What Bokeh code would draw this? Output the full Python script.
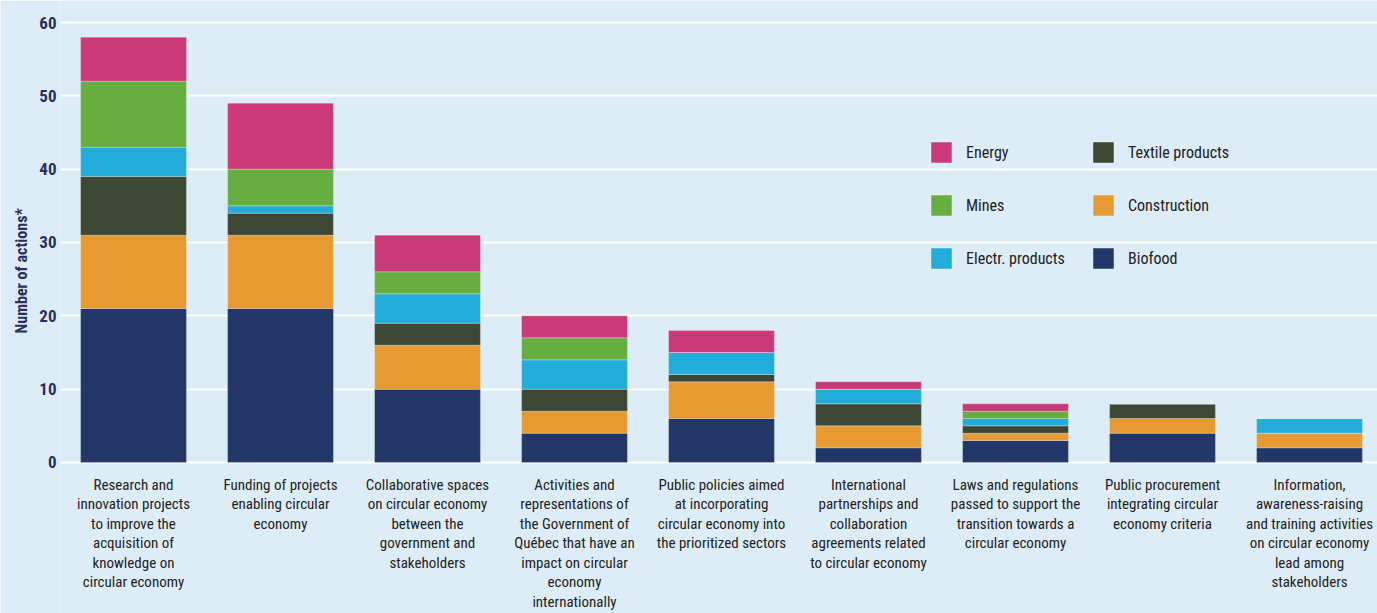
import math
from bokeh.plotting import figure
from bokeh.models import Range1d, FixedTicker, Legend, LegendItem, Title, ColumnDataSource
from bokeh.core.properties import value
from bokeh.embed import file_html
from bokeh.resources import INLINE

categories = [
    "Research and\ninnovation projects\nto improve the\nacquisition of\nknowledge on\ncircular economy",
    "Funding of projects\nenabling circular\neconomy",
    "Collaborative spaces\non circular economy\nbetween the\ngovernment and\nstakeholders",
    "Activities and\nrepresentations of\nthe Government of\nQuébec that have an\nimpact on circular\neconomy\ninternationally",
    "Public policies aimed\nat incorporating\ncircular economy into\nthe prioritized sectors",
    "International\npartnerships and\ncollaboration\nagreements related\nto circular economy",
    "Laws and regulations\npassed to support the\ntransition towards a\ncircular economy",
    "Public procurement\nintegrating circular\neconomy criteria",
    "Information,\nawareness-raising\nand training activities\non circular economy\nlead among\nstakeholders",
]
positions = [1, 2, 3, 4, 5, 6, 7, 8, 9]
biofood = [21, 21, 10, 4, 6, 2, 3, 4, 2]
construction = [10, 10, 6, 3, 5, 3, 1, 2, 2]
textile = [8, 3, 3, 3, 1, 3, 1, 2, 0]
electr = [4, 1, 4, 4, 3, 2, 1, 0, 2]
mines = [9, 5, 3, 3, 0, 0, 1, 0, 0]
energy = [6, 9, 5, 3, 3, 1, 1, 0, 0]
series_names = ["Biofood", "Construction", "Textile products", "Electr. products", "Mines", "Energy"]
y_ticks = [0, 10, 20, 30, 40, 50, 60]
y_title = "Number of actions*"

colors = {
    "Biofood": "#223768",
    "Construction": "#e89a32",
    "Textile products": "#3d4733",
    "Electr. products": "#22acd9",
    "Mines": "#66ae40",
    "Energy": "#c93a76",
}

BG = "#ddedf7"
FONT = "'Liberation Sans Narrow', 'Roboto Condensed', 'DejaVu Sans Condensed', 'Liberation Sans', sans-serif"

W, H = 1377, 613
LEFT = 60
PX_PER_CAT = 147.0
PX_PER_UNIT = 7.333
x_left = 1 - 73 / PX_PER_CAT
x_right = x_left + (W - LEFT) / PX_PER_CAT
y_top = 60 + 22 / PX_PER_UNIT
y_bot = -(H - 462) / PX_PER_UNIT

src = ColumnDataSource(dict(
    x=positions,
    Biofood=biofood,
    Construction=construction,
    **{"Textile products": textile, "Electr. products": electr},
    Mines=mines,
    Energy=energy,
))

p = figure(
    width=W, height=H,
    x_range=Range1d(x_left, x_right),
    y_range=Range1d(y_bot, y_top),
    x_axis_location=None,
    output_backend="svg", toolbar_location=None,
    min_border_left=LEFT, min_border_right=0, min_border_top=0, min_border_bottom=0,
)
p.background_fill_color = BG
p.border_fill_color = BG
p.outline_line_color = None

renderers = p.vbar_stack(
    series_names, x="x", width=0.72, source=src,
    color=[colors[s] for s in series_names],
    line_color="#ffffff", line_alpha=0.25, line_width=1,
)

p.yaxis.ticker = FixedTicker(ticks=y_ticks)
p.yaxis.axis_line_color = None
p.yaxis.major_tick_line_color = None
p.yaxis.minor_tick_line_color = None
p.yaxis.major_tick_in = 0
p.yaxis.major_tick_out = 0
p.yaxis.major_label_standoff = 4
p.yaxis.major_label_text_font = FONT
p.yaxis.major_label_text_font_style = "bold"
p.yaxis.major_label_text_font_size = "17px"
p.yaxis.major_label_text_color = "#2b2f5e"
p.xgrid.grid_line_color = None
p.ygrid.grid_line_color = "#ffffff"
p.ygrid.grid_line_width = 2

# category labels under the bars
p.text(
    x=positions, y=[-1.8] * len(positions), text=categories,
    text_align="center", text_baseline="top",
    text_font=value(FONT), text_font_size="15px",
    text_line_height=1.085, text_color="#222222",
)

p.add_layout(Title(
    text=y_title, align="left", offset=280,
    text_font=FONT, text_font_style="bold", text_font_size="16px",
    text_color="#2b2f5e", standoff=12,
), "left")

rmap = dict(zip(series_names, renderers))

def make_legend(names, loc):
    leg = Legend(
        items=[LegendItem(label=n, renderers=[rmap[n]]) for n in names],
        location=loc, orientation="vertical",
        glyph_width=26, glyph_height=26, label_height=26,
        spacing=27, label_standoff=12, padding=0, margin=0,
        border_line_color=None, background_fill_alpha=0,
        label_text_font=FONT, label_text_font_size="16px", label_text_color="#222222",
    )
    p.add_layout(leg)

make_legend(["Energy", "Mines", "Electr. products"], (868, 342))
make_legend(["Textile products", "Construction", "Biofood"], (1030, 342))

open("out.html", "w").write(file_html(p, INLINE))
